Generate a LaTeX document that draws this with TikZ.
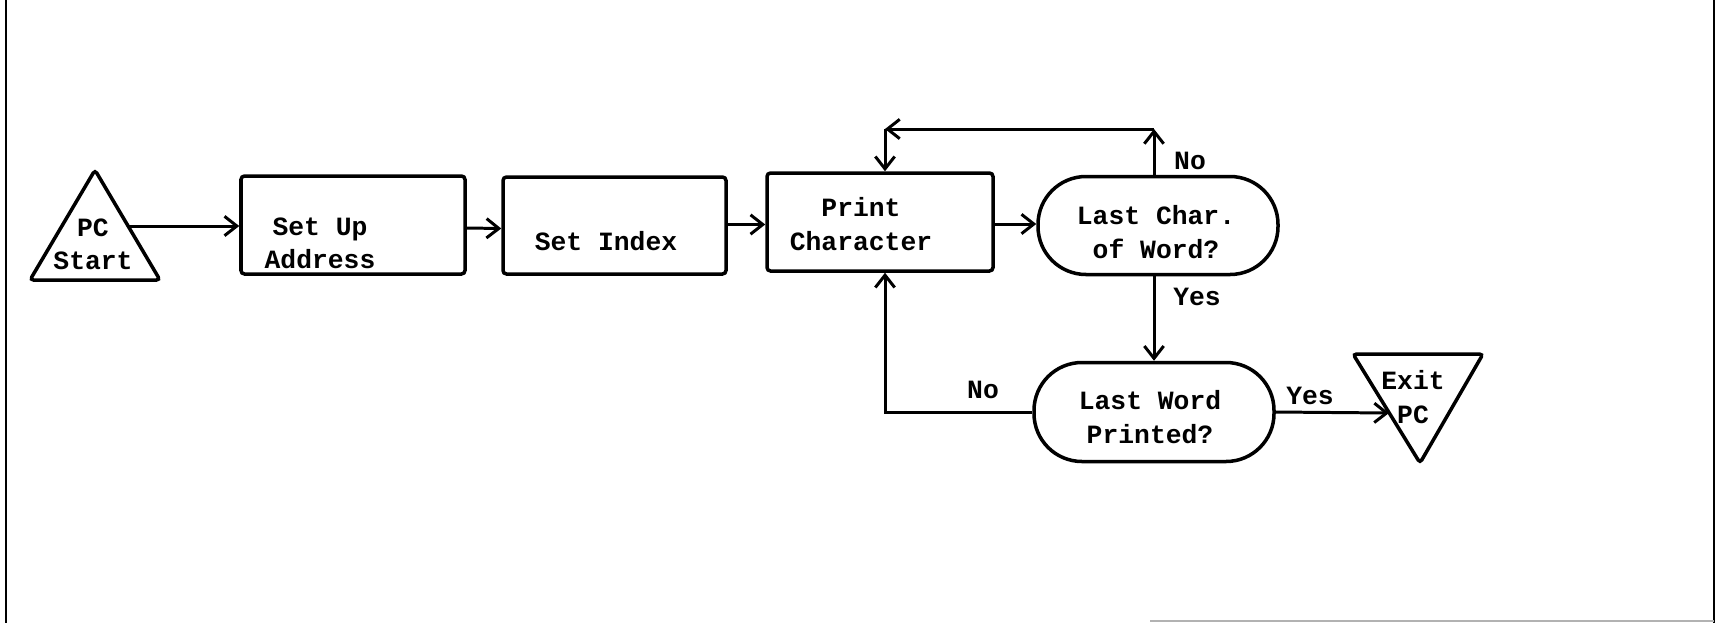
\documentclass[tikz,border=0pt]{standalone}
\usepackage{fontspec}
\setmainfont{Liberation Mono}
\usetikzlibrary{arrows.meta}

\tikzset{
    flowtext/.style={font=\fontsize{15}{19}\selectfont\bfseries, align=center},
    procbox/.style={draw, line width=2pt, rectangle, rounded corners=2pt, inner sep=0pt},
    testbox/.style={draw, line width=2pt, rectangle, rounded corners=0.96cm, inner sep=0pt,
        minimum width=4.8cm, minimum height=1.96cm},
    flowlabel/.style={flowtext, inner sep=0pt}
}

\begin{document}
\begin{tikzpicture}[line width=1.7pt, >={Straight Barb[length=7pt,width=11pt]}]
    \useasboundingbox (0,0) rectangle (34.36,-12.46);

    % Frame
    \draw[line width=1.3pt] (0.12,0) -- (0.12,-12.46);
    \draw[line width=1.3pt] (34.28,0) -- (34.28,-12.46);
    \draw[line width=0.8pt, gray!60] (23.0,-12.42) -- (34.28,-12.42);

    % Entry triangle
    \draw[line width=2pt, rounded corners=2pt] (1.90,-3.40) -- (3.20,-5.60) -- (0.60,-5.60) -- cycle;
    \node[flowlabel] (start) at (1.86,-4.88) {PC\\Start};
    \coordinate (startout) at (2.58,-4.52);

    % Process boxes
    \node[procbox, minimum width=4.48cm, minimum height=1.96cm,
        label={[flowlabel, shift={(-0.66,-0.36)}]center:{Set Up\\Address}}] (addr) at (7.06,-4.50) {};
    \node[procbox, minimum width=4.46cm, minimum height=1.94cm,
        label={[flowlabel, shift={(-0.17,-0.32)}]center:{Set Index}}] (index) at (12.29,-4.51) {};
    \node[procbox, minimum width=4.52cm, minimum height=1.96cm,
        label={[flowlabel, shift={(-0.38,-0.04)}]center:{Print\\Character}}] (print) at (17.60,-4.44) {};

    % Tests
    \node[testbox, label={[flowlabel, shift={(-0.04,-0.13)}]center:{Last Char.\\of Word?}}] (lastchar) at (23.16,-4.51) {};
    \node[testbox, minimum height=1.98cm,
        label={[flowlabel, shift={(-0.08,-0.10)}]center:{Last Word\\Printed?}}] (lastword) at (23.08,-8.24) {};

    % Exit triangle
    \draw[line width=2pt, rounded corners=2pt] (27.06,-7.08) -- (29.66,-7.08) -- (28.40,-9.26) -- cycle;
    \node[flowlabel] (exit) at (28.26,-7.94) {Exit\\PC};
    \coordinate (exitin) at (27.78,-8.26);

    % Main line
    \draw[->] (startout) -- (startout -| addr.west);
    \draw[->] ([yshift=-0.06cm]addr.east) -- ([yshift=-0.06cm]index.west);
    \draw[->] ([yshift=0.02cm]index.east) -- ([yshift=0.02cm]index.east -| print.west);
    \draw[->] (print.east |- 0,-4.48) -- (lastchar.west |- 0,-4.48);

    % Loop back over the top
    \coordinate (topR) at (23.08,-2.58);
    \coordinate (topL) at ([xshift=0.1cm]print.north |- topR);
    \draw[->] (topR |- lastchar.north) -- (topR);
    \draw[->] (topR) -- (topL);
    \draw[->] (topL) -- (topL |- print.north);
    \node[flowlabel] (nochar) at (23.80,-3.22) {No};

    % Down to the second test
    \draw[->] (topR |- lastchar.south) -- (topR |- lastword.north);
    \node[flowlabel] (yeschar) at (23.94,-5.94) {Yes};

    % Loop back underneath
    \draw[->] (lastword.west) -| (topL |- print.south);
    \node[flowlabel] (noword) at (19.66,-7.80) {No};

    % Out
    \draw[->] (lastword.east) -- (exitin);
    \node[flowlabel] (yesword) at (26.20,-7.92) {Yes};
\end{tikzpicture}
\end{document}
